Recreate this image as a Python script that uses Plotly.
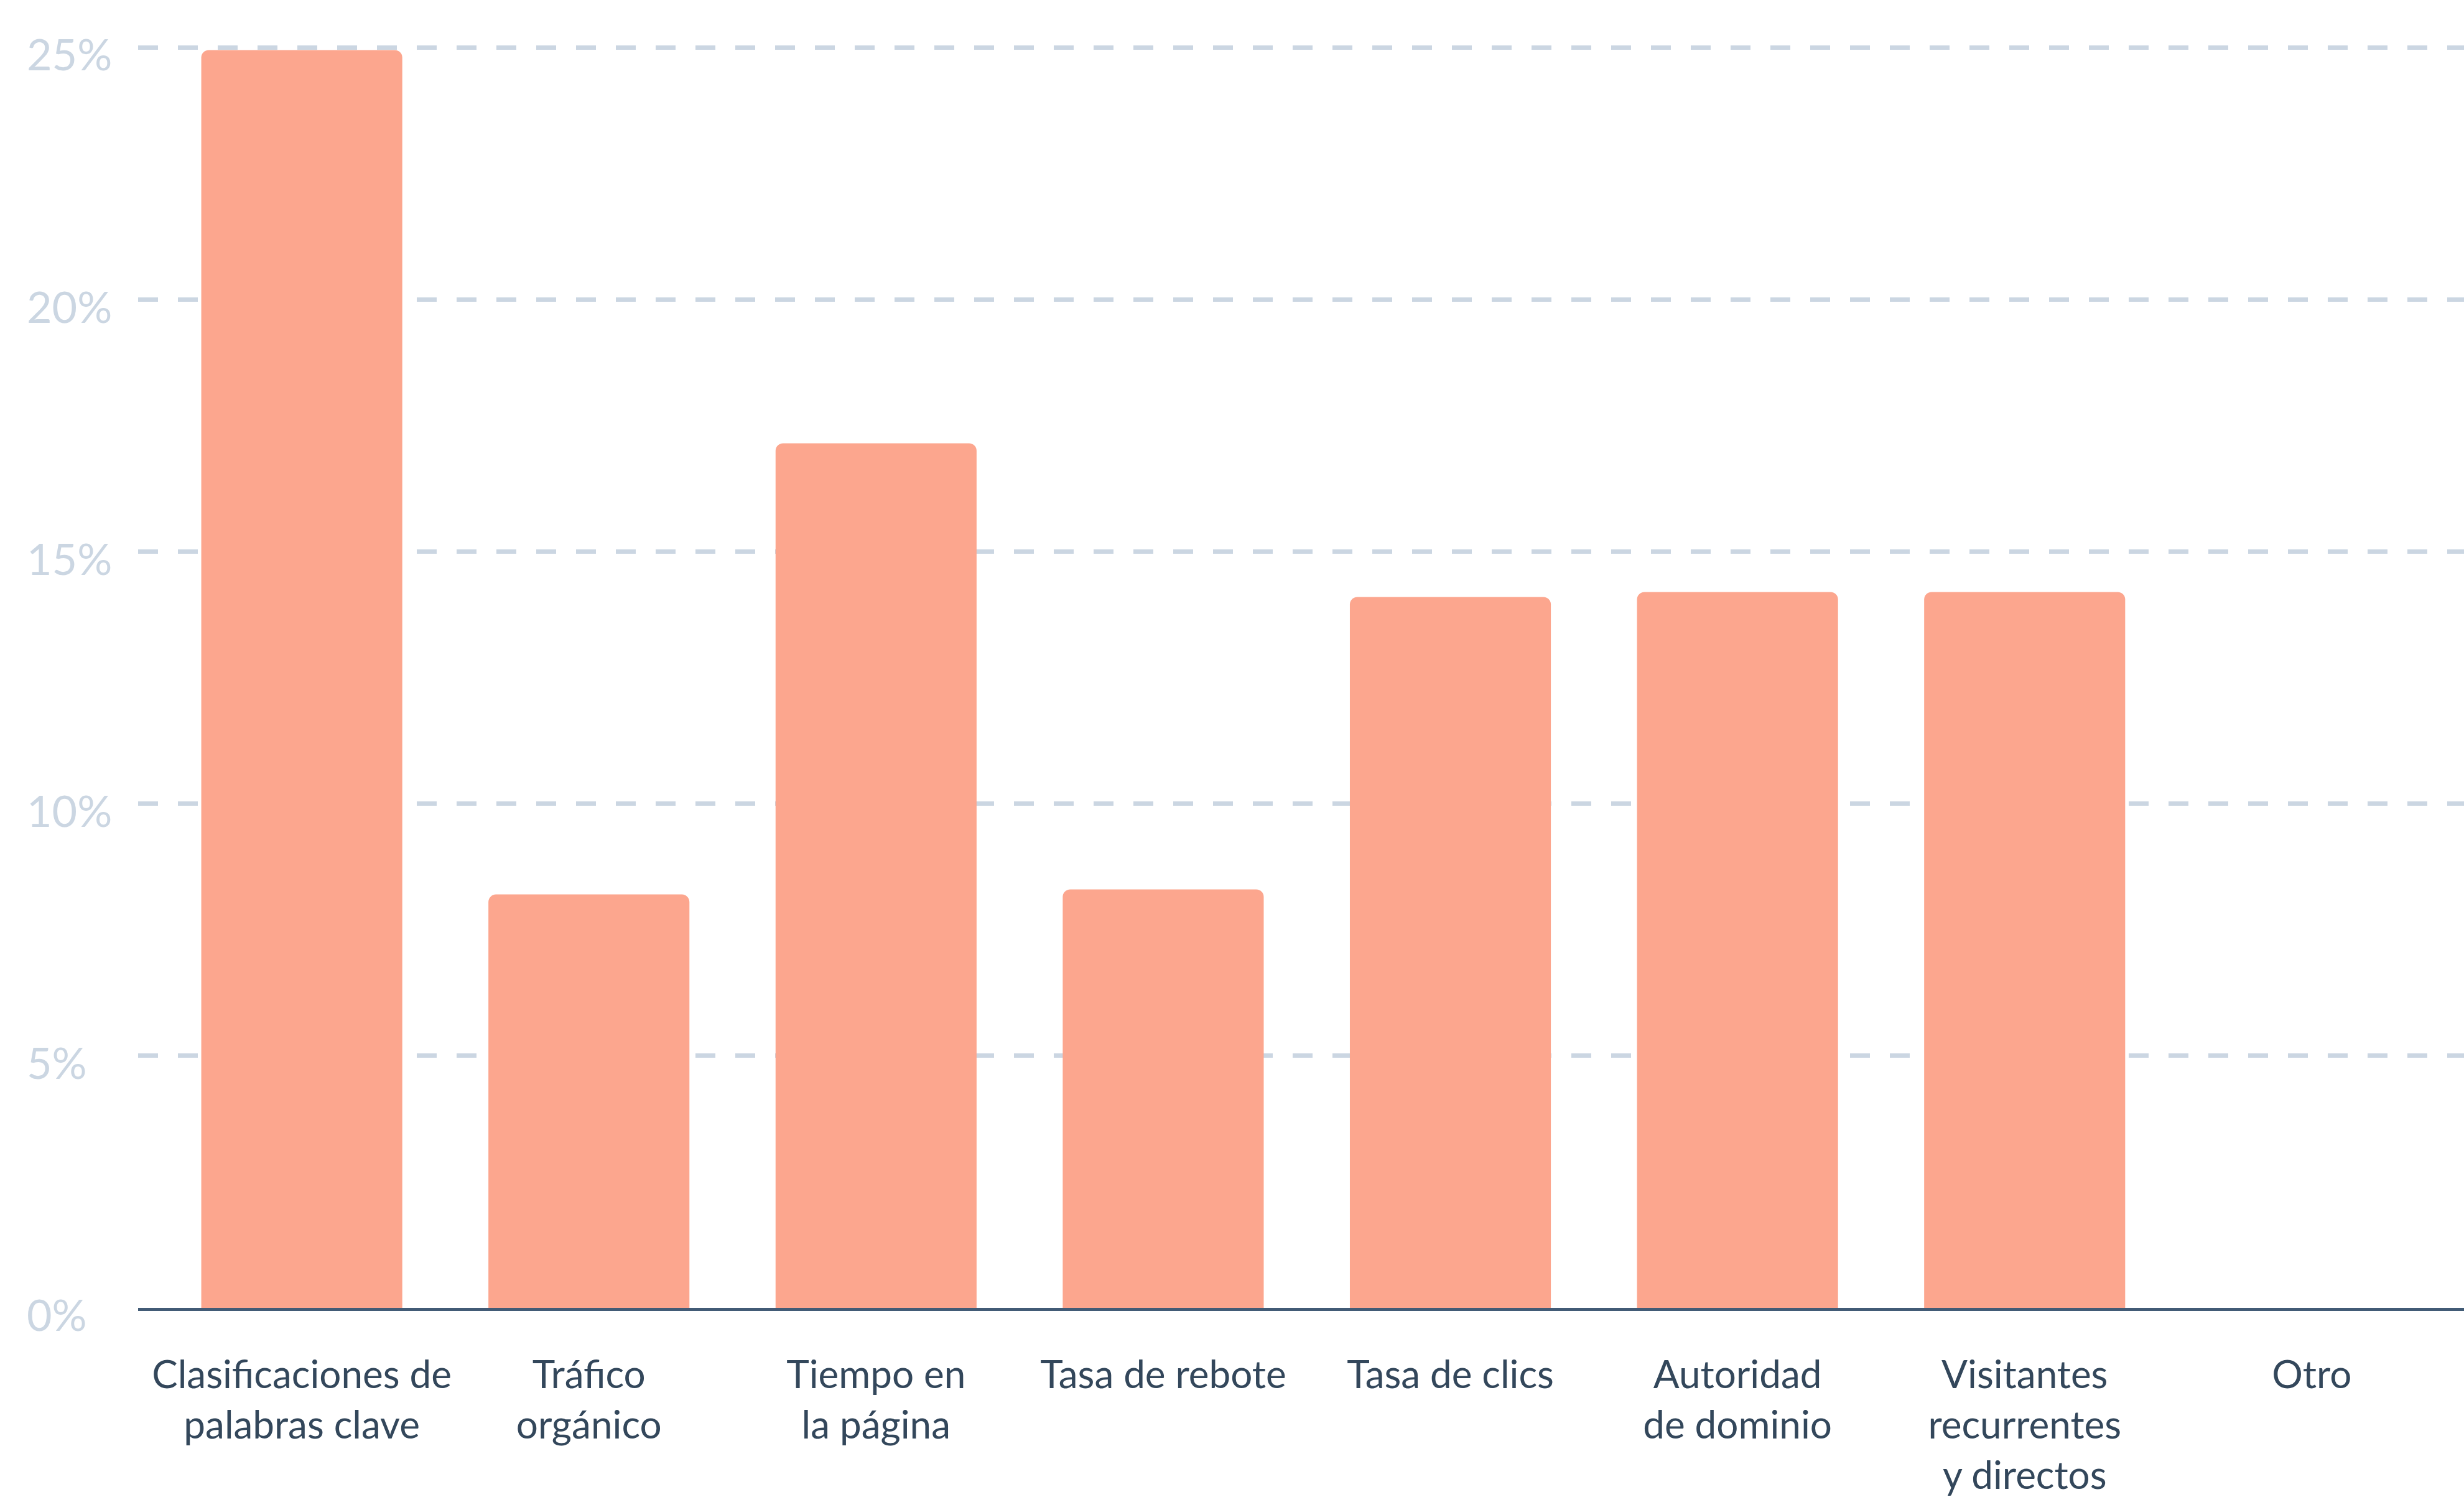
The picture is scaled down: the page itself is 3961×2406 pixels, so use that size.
import plotly.graph_objects as go

categories = [
    "Clasificaciones de<br>palabras clave",
    "Tráfico<br>orgánico",
    "Tiempo en<br>la página",
    "Tasa de rebote",
    "Tasa de clics",
    "Autoridad<br>de dominio",
    "Visitantes<br>recurrentes<br>y directos",
    "Otro",
]
values = [24.95, 8.2, 17.15, 8.3, 14.1, 14.2, 14.2, 0]
y_ticks = [0, 5, 10, 15, 20, 25]
y_tick_labels = ["0%", "5%", "10%", "15%", "20%", "25%"]

fig = go.Figure(
    go.Bar(
        x=list(range(len(categories))),
        y=values,
        marker=dict(color="#fca68e", line=dict(width=0)),
        width=0.70,
        hoverinfo="skip",
    )
)

W, H = 3961, 2406
ML, MR, MT, MB = 222, 0, 40, 289

fig.update_layout(
    width=W,
    height=H,
    margin=dict(l=ML, r=MR, t=MT, b=MB),
    paper_bgcolor="white",
    plot_bgcolor="white",
    barcornerradius=12,
    showlegend=False,
    font=dict(family="Lato", color="#33475b"),
)

fig.update_xaxes(
    range=[-0.57, 7.53],
    tickmode="array",
    tickvals=list(range(len(categories))),
    ticktext=categories,
    tickfont=dict(size=62, color="#33475b", family="Lato"),
    showgrid=False,
    showline=True,
    linecolor="#425b76",
    linewidth=5,
    ticks="",
    ticklabelstandoff=50,
    zeroline=False,
)

fig.update_yaxes(
    range=[0, 25.45],
    tickmode="array",
    tickvals=y_ticks,
    showticklabels=False,
    showgrid=True,
    gridcolor="#cbd6e2",
    gridwidth=7,
    griddash="32px,32px",
    showline=False,
    zeroline=False,
    ticks="",
)

label_x = (41 - ML) / (W - ML - MR)
for v, t in zip(y_ticks, y_tick_labels):
    fig.add_annotation(
        x=label_x,
        xref="paper",
        y=v,
        yref="y",
        text=t,
        showarrow=False,
        xanchor="left",
        yanchor="middle",
        yshift=-10,
        font=dict(size=70, color="#cbd6e2", family="Lato"),
    )

fig.write_html("out.html")
